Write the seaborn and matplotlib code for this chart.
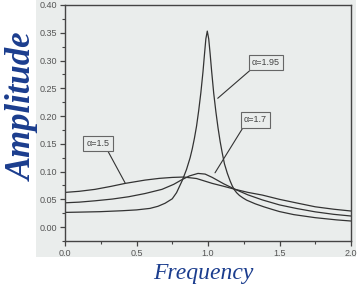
import matplotlib
matplotlib.use("Agg")
import matplotlib.pyplot as plt
from matplotlib.patches import Rectangle
from matplotlib.ticker import MultipleLocator, FormatStrFormatter
import seaborn as sns

# ---- data ----
x_a15 = [0.0, 0.1, 0.21, 0.32, 0.42, 0.56, 0.66, 0.75, 0.83, 0.92, 1.03, 1.11, 1.19, 1.28, 1.38,
         1.5, 1.62, 1.75, 1.88, 2.0]
y_a15 = [0.0625, 0.0645, 0.068, 0.0733, 0.0787, 0.0847, 0.0878, 0.0895, 0.0902, 0.0875, 0.0787, 0.0735,
         0.068, 0.0625, 0.0577, 0.050, 0.0435, 0.0366, 0.0322, 0.029]

x_a17 = [0.0, 0.1, 0.21, 0.33, 0.445, 0.56, 0.678, 0.76, 0.818, 0.87, 0.93, 0.98, 1.03, 1.11, 1.19,
         1.28, 1.38, 1.5, 1.62, 1.75, 1.88, 2.0]
y_a17 = [0.0438, 0.045, 0.0474, 0.0505, 0.0547, 0.0605, 0.068, 0.077, 0.0855, 0.0922, 0.0967, 0.0955,
         0.0895, 0.078, 0.068, 0.058, 0.049, 0.040, 0.0335, 0.0275, 0.023, 0.020]

x_a195 = [0.0, 0.1, 0.245, 0.4, 0.5, 0.594, 0.65, 0.7, 0.75, 0.78, 0.80, 0.82, 0.85, 0.875, 0.89,
          0.905, 0.92, 0.935, 0.95, 0.965, 0.975, 0.985, 0.995, 1.005, 1.015, 1.025, 1.04, 1.055,
          1.07, 1.085, 1.10, 1.115, 1.135, 1.155, 1.17, 1.185, 1.2, 1.22, 1.245, 1.27, 1.33, 1.39,
          1.45, 1.5, 1.6, 1.75, 1.9, 2.0]
y_a195 = [0.0265, 0.027, 0.0278, 0.0295, 0.031, 0.0337, 0.0375, 0.043, 0.051, 0.062, 0.073, 0.084,
          0.104, 0.125, 0.141, 0.16, 0.182, 0.21, 0.242, 0.28, 0.31, 0.339, 0.353, 0.339, 0.312, 0.282,
          0.241, 0.208, 0.179, 0.154, 0.133, 0.114, 0.097, 0.083, 0.074, 0.067, 0.062, 0.057, 0.0525,
          0.0486, 0.042, 0.0366, 0.0318, 0.028, 0.0225, 0.017, 0.013, 0.011]

labels = ["\u03b1=1.5", "\u03b1=1.7", "\u03b1=1.95"]
x_ticks = [0.0, 0.5, 1.0, 1.5, 2.0]
y_ticks = [0.00, 0.05, 0.10, 0.15, 0.20, 0.25, 0.30, 0.35, 0.40]

sns.set_style("ticks")
plt.rcParams["font.family"] = ["Liberation Sans", "DejaVu Sans"]

BG = "#eaedec"
LINE = "#333333"
BLUE = "#1b3d8e"

fig = plt.figure(figsize=(3.6, 2.95), dpi=100, facecolor="white")
fig.patches.append(Rectangle((36 / 360, 1 - 257 / 295), (356 - 36) / 360, 257 / 295,
                             transform=fig.transFigure, facecolor=BG, edgecolor="none", zorder=-10))
ax = fig.add_axes([65 / 360, 1 - 241 / 295, (351 - 65) / 360, (241 - 5) / 295])
ax.set_facecolor(BG)

for xs, ys in [(x_a15, y_a15), (x_a17, y_a17), (x_a195, y_a195)]:
    sns.lineplot(x=xs, y=ys, ax=ax, color=LINE, linewidth=0.9, estimator=None, sort=False)

ax.set_xlim(0.0, 2.0)
ax.set_ylim(-0.025, 0.40)
ax.set_xticks(x_ticks)
ax.set_yticks(y_ticks)
ax.xaxis.set_minor_locator(MultipleLocator(0.25))
ax.yaxis.set_minor_locator(MultipleLocator(0.025))
ax.xaxis.set_major_formatter(FormatStrFormatter("%.1f"))
ax.yaxis.set_major_formatter(FormatStrFormatter("%.2f"))
ax.tick_params(which="major", direction="out", length=3.5, width=0.9, color="#444444",
               labelsize=6.5, labelcolor="#555555", pad=2)
ax.tick_params(which="minor", direction="out", length=2, width=0.8, color="#444444")
for s in ax.spines.values():
    s.set_visible(True)
    s.set_color("#444444")
    s.set_linewidth(1.0)
ax.set_xlabel("")
ax.set_ylabel("")

box = dict(boxstyle="square,pad=0.35", facecolor=BG, edgecolor="#666666", linewidth=0.8)
arr = dict(arrowstyle="-", color=LINE, linewidth=0.8, shrinkA=0, shrinkB=0)

ax.annotate(labels[0], xy=(0.42, 0.0798), xytext=(0.231, 0.151), ha="center", va="center",
            fontsize=6.5, color="#444444", bbox=box, arrowprops=dict(arr, relpos=(0.85, 0.0)))
ax.annotate(labels[1], xy=(1.049, 0.0978), xytext=(1.331, 0.193), ha="center", va="center",
            fontsize=6.5, color="#444444", bbox=box, arrowprops=dict(arr, relpos=(0.05, 0.0)))
ax.annotate(labels[2], xy=(1.068, 0.232), xytext=(1.404, 0.297), ha="center", va="center",
            fontsize=6.5, color="#444444", bbox=box, arrowprops=dict(arr, relpos=(0.09, 0.0)))

fig.text(203 / 360, 1 - 273 / 295, "Frequency", ha="center", va="center", fontsize=17,
         style="italic", color=BLUE, family=["Liberation Serif", "DejaVu Serif"])
fig.text(23 / 360, 1 - 106.5 / 295, "Amplitude", ha="center", va="center", rotation=90,
         fontsize=25, style="italic", weight="bold", color=BLUE, family=["Liberation Serif", "DejaVu Serif"])

fig.savefig("out.png", dpi=100, facecolor="white")
